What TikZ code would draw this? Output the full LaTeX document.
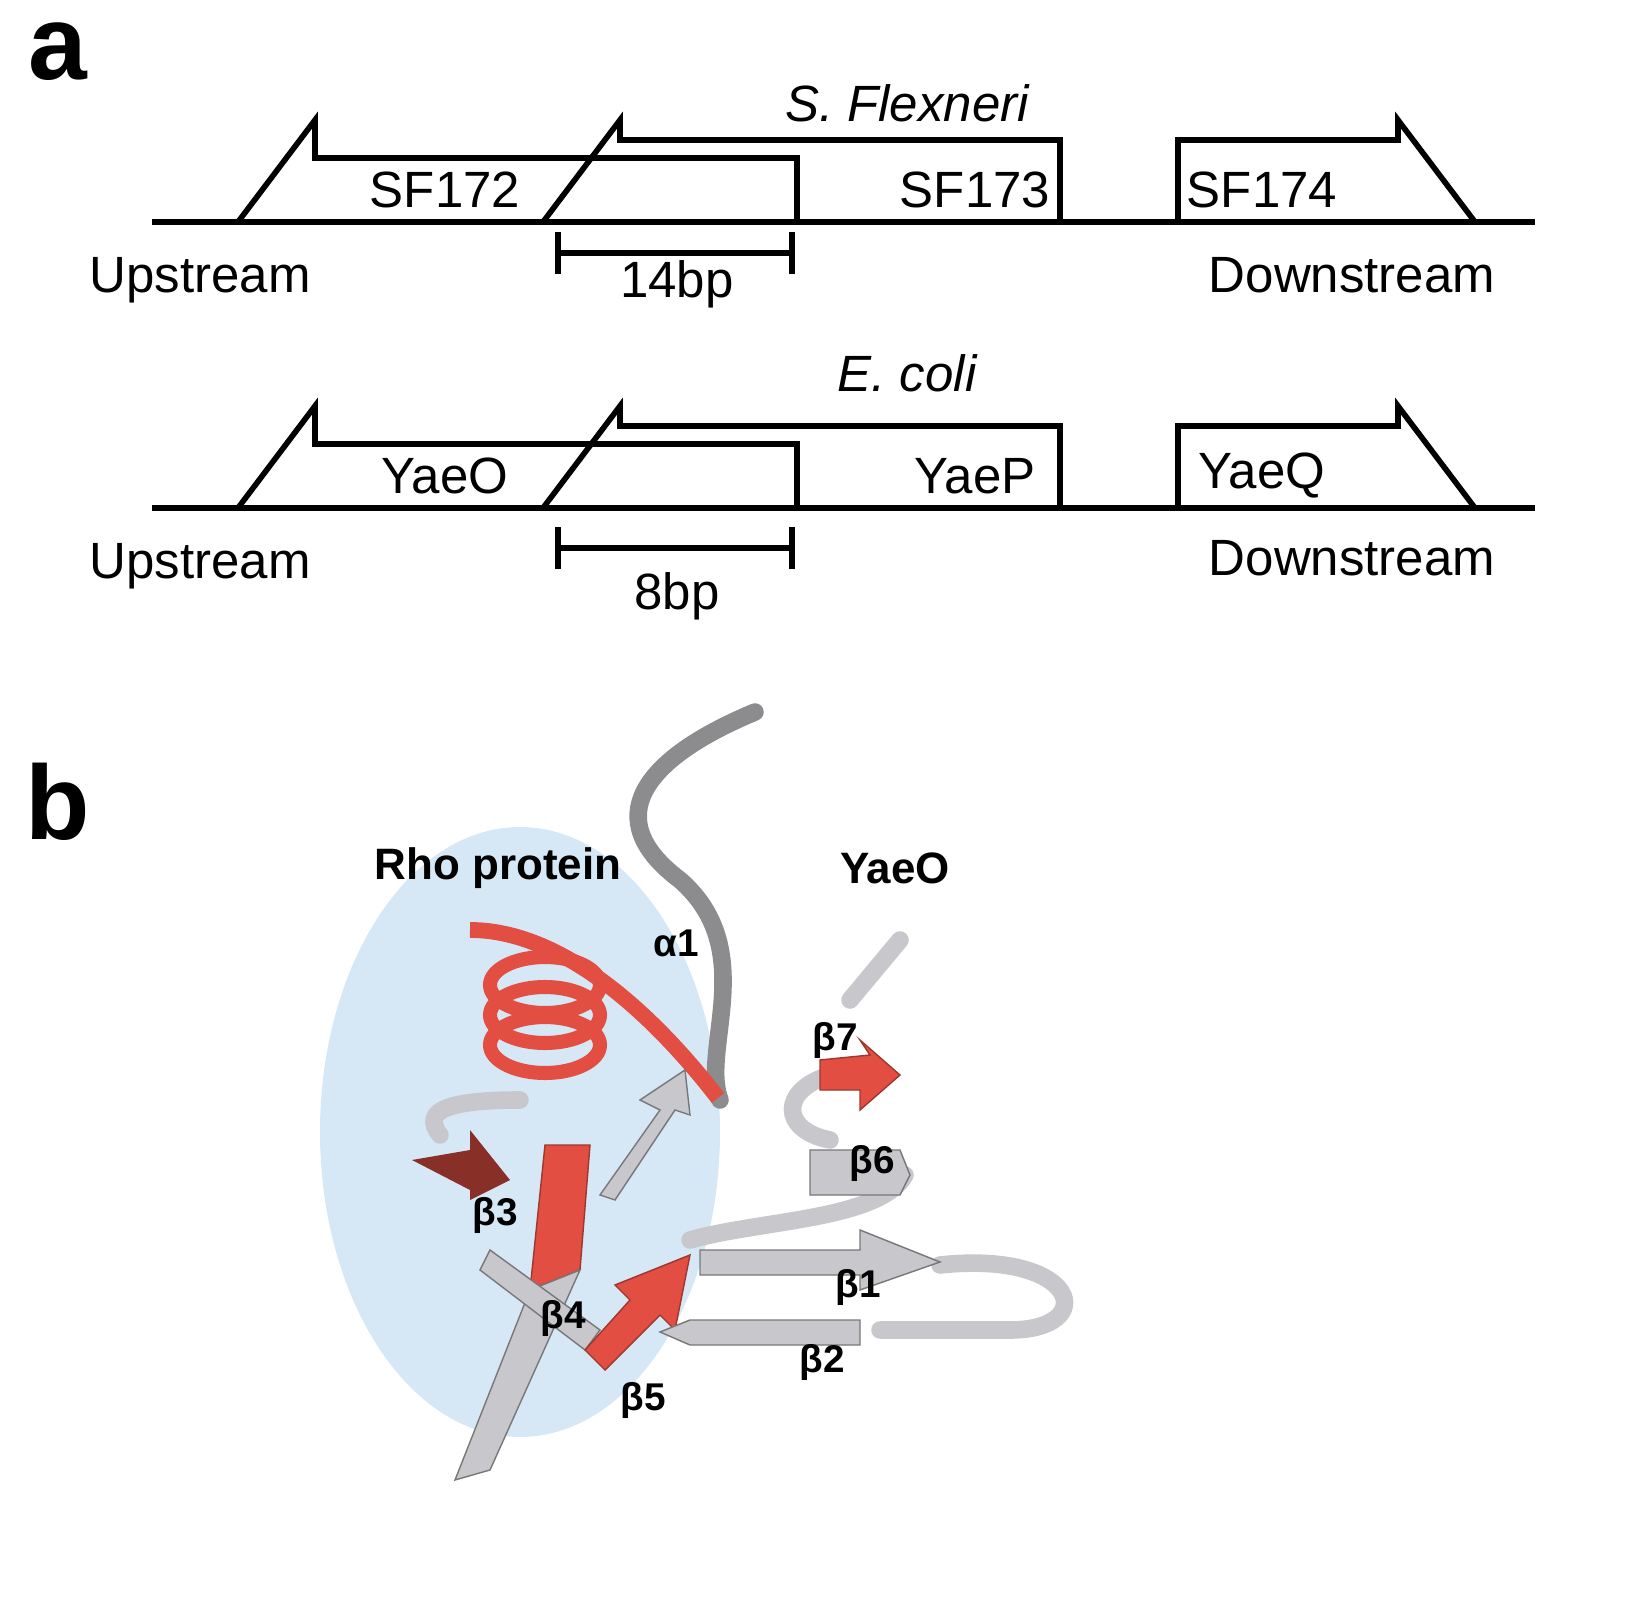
\documentclass[tikz,border=0pt]{standalone}
\usepackage{fontspec}
\setmainfont{Liberation Sans}
\usepackage{tikz}
\usetikzlibrary{arrows.meta}
\definecolor{rhoblue}{RGB}{214,232,245}
\definecolor{ribred}{RGB}{226,78,66}
\definecolor{ribgrey}{RGB}{200,200,204}
\begin{document}
\begin{tikzpicture}[x=0.01cm, y=-0.01cm, semithick,
    gene/.style={draw, line width=1.6pt, line join=miter},
    lbl/.style={font=\fontsize{14.5}{17}\selectfont, inner sep=0pt},
    panel/.style={font=\bfseries\fontsize{30}{32}\selectfont, inner sep=0pt},
    tag/.style={font=\bfseries\fontsize{11}{13}\selectfont, inner sep=0pt},
    title/.style={font=\bfseries\fontsize{12.5}{14}\selectfont, inner sep=0pt},
    tube/.style={draw=ribgrey!70!black, line width=5pt, line cap=round},
    strand/.style={fill=ribgrey, draw=ribgrey!60!black, line width=0.4pt},
    redstrand/.style={fill=ribred, draw=ribred!70!black, line width=0.4pt}]
\useasboundingbox (0,0) rectangle (1644,1606);
% panel a
\node[panel] (pa) at (58,52) {a};
\node[panel] (pb) at (58,802) {b};
\foreach \dy/\ga/\gb/\gc/\org/\bp in {0/SF172/SF173/SF174/{\itshape S. Flexneri}/14bp, 286/YaeO/YaeP/YaeQ/{\itshape E. coli}/8bp}{
  \draw[line width=1.6pt] (152,222+\dy) -- (1535,222+\dy);
  \draw[gene] (238,222+\dy) -- (315,120+\dy) -- (315,158+\dy) -- (797,158+\dy) -- (797,222+\dy);
  \draw[gene] (543,222+\dy) -- (620,120+\dy) -- (620,140+\dy) -- (1060,140+\dy) -- (1060,222+\dy);
  \draw[gene] (1178,222+\dy) -- (1178,140+\dy) -- (1398,140+\dy) -- (1398,120+\dy) -- (1475,222+\dy);
  \node[lbl] at (445,190+\dy) {\ga};
  \node[lbl] at (975,190+\dy) {\gb};
  \node[lbl] at (1262,190+\dy) {\gc};
  \node[lbl] at (907,103+\dy-16*\dy/286) {\org};
  \node[lbl] at (200,280+\dy) {Upstream};
  \node[lbl] at (1352,275+\dy-3*\dy/286) {Downstream};
}
\foreach \y/\t/\ty in {253/14bp/284, 548/8bp/596}{
  \coordinate (l) at (555,\y);
  \coordinate (r) at (795,\y);
  \draw[line width=1.6pt, {Bar[width=12pt]}-{Bar[width=12pt]}] (l) -- (r);
  \node[lbl] at (677,\ty) {\t};
}
% panel b
\fill[rhoblue] (520,1132) ellipse (200 and 305);
\draw[tube] (755,712) .. controls (640,760) and (600,820) .. (680,880)
  .. controls (760,950) and (700,1050) .. (720,1100);
\draw[tube, draw=ribgrey] (900,940) -- (850,1000);
\draw[tube, draw=ribgrey] (830,1075) .. controls (780,1090) and (780,1130) .. (830,1140);
\draw[tube, draw=ribgrey] (905,1175) .. controls (880,1220) and (760,1220) .. (690,1240);
\draw[tube, draw=ribgrey] (940,1265) .. controls (1080,1250) and (1100,1330) .. (1010,1330) -- (880,1330);
\draw[tube, draw=ribgrey] (440,1135) .. controls (420,1110) and (450,1100) .. (520,1100);
% helix
\foreach \i in {0,1,2}{
  \draw[ribred, line width=4pt] (545,985+30*\i) ellipse (55 and 28);
}
\draw[ribred, line width=4.5pt] (470,930) .. controls (560,930) and (650,1010) .. (718,1098);
% strands
\fill[redstrand] (545,1145) -- (590,1145) -- (580,1270) -- (530,1290) -- cycle;
\fill[strand] (530,1290) -- (580,1270) -- (490,1470) -- (455,1480) -- cycle;
\fill[fill=ribred!60!black] (412,1160) -- (470,1150) -- (470,1130) -- (510,1180) -- (470,1200) -- (470,1190) -- cycle;
\fill[strand] (490,1250) -- (600,1330) -- (585,1350) -- (480,1270) -- cycle;
\fill[redstrand] (585,1350) -- (630,1300) -- (615,1285) -- (690,1255) -- (675,1330) -- (660,1315) -- (605,1370) -- cycle;
\fill[strand] (690,1320) -- (860,1320) -- (860,1345) -- (690,1345) -- (660,1332) -- cycle;
\fill[strand] (700,1250) -- (860,1250) -- (860,1230) -- (940,1262) -- (860,1290) -- (860,1275) -- (700,1275) -- cycle;
\fill[strand] (810,1150) -- (900,1150) -- (910,1175) -- (900,1195) -- (810,1195) -- cycle;
\fill[redstrand] (820,1060) -- (870,1055) -- (860,1040) -- (900,1075) -- (860,1110) -- (860,1090) -- (820,1090) -- cycle;
\fill[strand] (600,1195) -- (660,1110) -- (640,1100) -- (685,1070) -- (690,1115) -- (675,1110) -- (615,1200) -- cycle;
% labels
\node[title] at (498,868) {Rho protein};
\node[title] at (895,868) {YaeO};
\node[tag] at (676,943) {α1};
\node[tag] at (835,1040) {β7};
\node[tag] at (872,1163) {β6};
\node[tag] at (495,1215) {β3};
\node[tag] at (858,1287) {β1};
\node[tag] at (563,1318) {β4};
\node[tag] at (822,1362) {β2};
\node[tag] at (643,1400) {β5};
\end{tikzpicture}
\end{document}
